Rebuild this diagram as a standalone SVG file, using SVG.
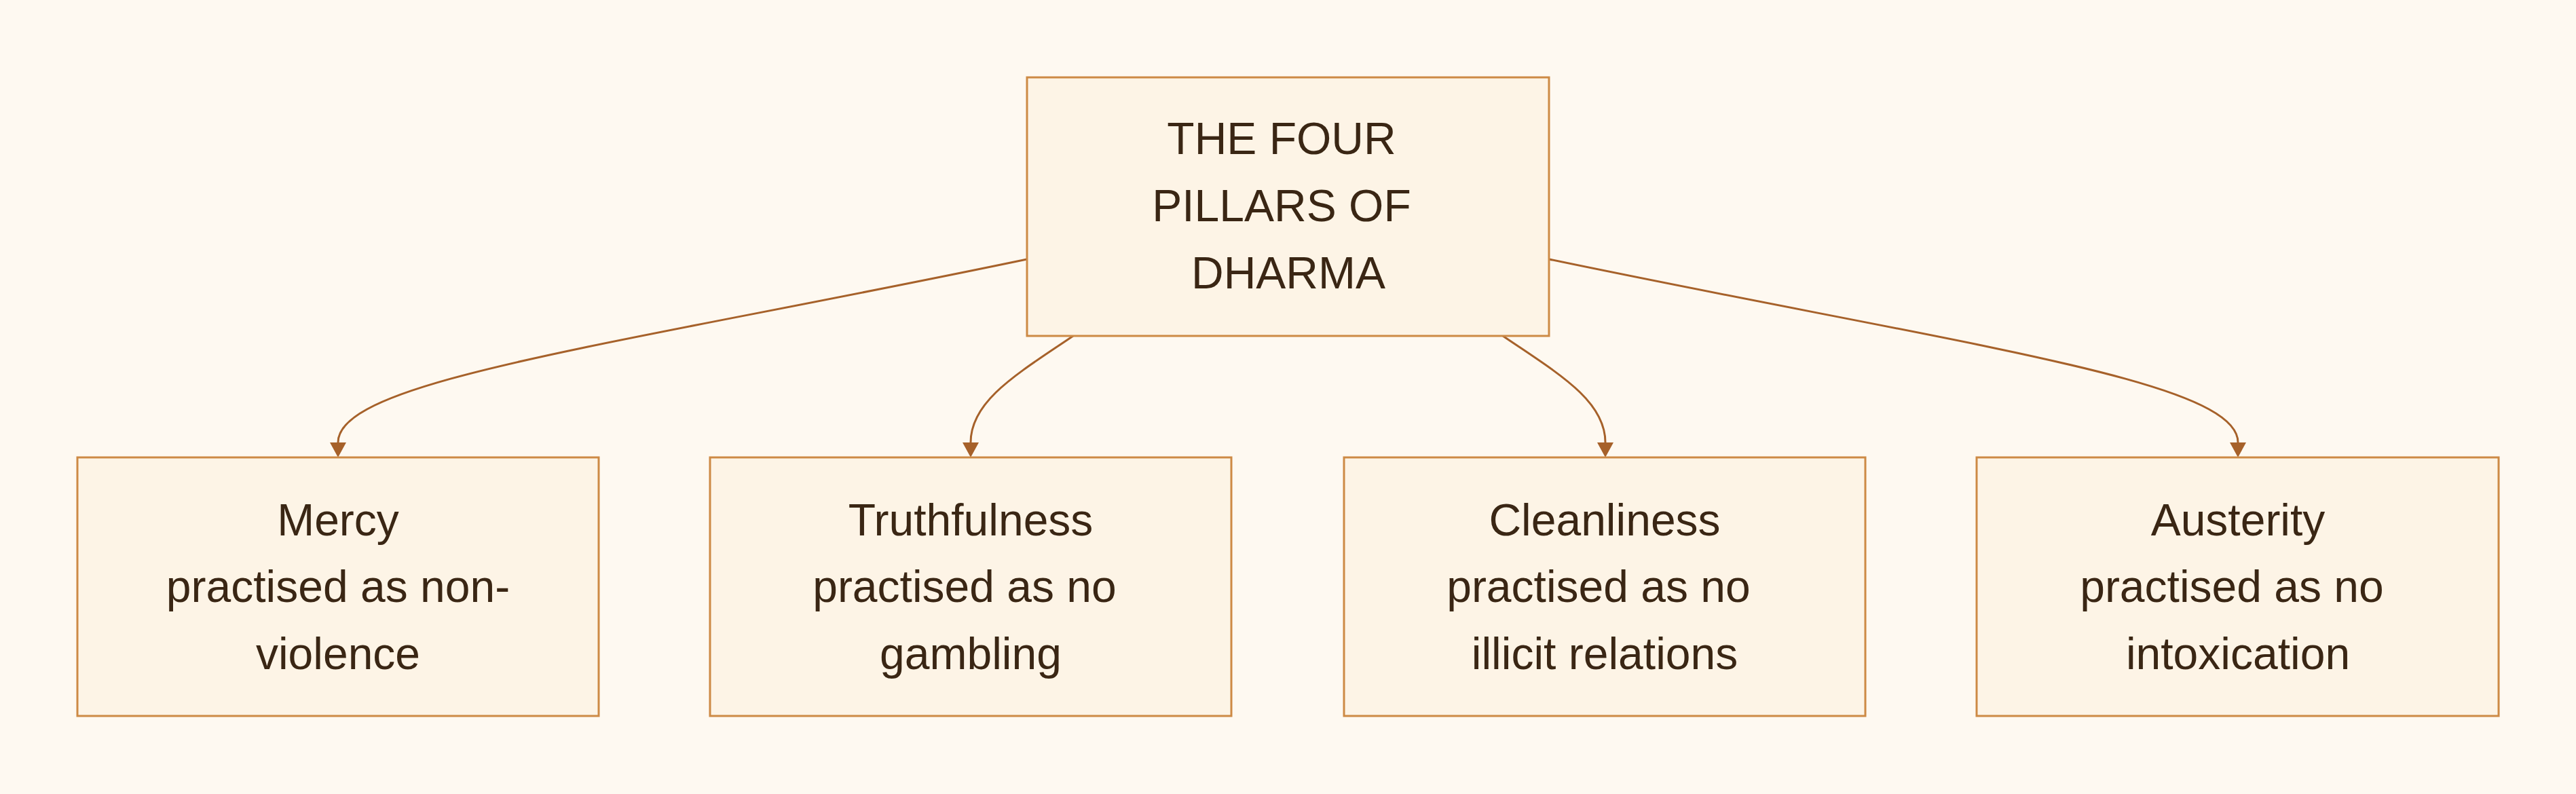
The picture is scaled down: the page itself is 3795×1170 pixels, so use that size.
<svg xmlns="http://www.w3.org/2000/svg" width="3795" height="1170" viewBox="0 0 3795 1170">
<defs>
<style>
.node rect{fill:#FDF4E6;stroke:#CD8A45;stroke-width:3}
.node text{font-family:"Liberation Sans",Arial,Helvetica,sans-serif;font-size:66px;fill:#3A2614;text-anchor:middle}
.edge{fill:none;stroke:#A6612A;stroke-width:3}
</style>
<marker id="arrow" viewBox="0 0 22 24" refX="0" refY="12" markerWidth="22" markerHeight="24" markerUnits="userSpaceOnUse" orient="auto">
<path d="M0,0 L22,12 L0,24 z" fill="#A6612A"/>
</marker>
</defs>
<rect x="0" y="0" width="3795" height="1170" fill="#FEF9F1"/>
<g id="connectors">
<path class="edge" d="M1513,382 C900,510 498,560 498,652" marker-end="url(#arrow)"/>
<path class="edge" d="M1581,495 C1500,550 1430,590 1430,652" marker-end="url(#arrow)"/>
<path class="edge" d="M2214,495 C2295,550 2365,590 2365,652" marker-end="url(#arrow)"/>
<path class="edge" d="M2282,382 C2895,510 3297,560 3297,652" marker-end="url(#arrow)"/>
</g>
<g id="root" class="node">
<rect x="1513" y="114" width="769" height="381"/>
<text x="1888" y="227">THE FOUR</text>
<text x="1888" y="326">PILLARS OF</text>
<text x="1898" y="425">DHARMA</text>
</g>
<g id="mercy" class="node">
<rect x="114" y="674" width="768" height="381"/>
<text x="498" y="789">Mercy</text>
<text x="498" y="887">practised as non-</text>
<text x="498" y="986">violence</text>
</g>
<g id="truthfulness" class="node">
<rect x="1046" y="674" width="768" height="381"/>
<text x="1430" y="789">Truthfulness</text>
<text x="1421" y="887">practised as no</text>
<text x="1430" y="986">gambling</text>
</g>
<g id="cleanliness" class="node">
<rect x="1980" y="674" width="768" height="381"/>
<text x="2364" y="789">Cleanliness</text>
<text x="2355" y="887">practised as no</text>
<text x="2364" y="986">illicit relations</text>
</g>
<g id="austerity" class="node">
<rect x="2912" y="674" width="769" height="381"/>
<text x="3297" y="789">Austerity</text>
<text x="3288" y="887">practised as no</text>
<text x="3297" y="986">intoxication</text>
</g>
</svg>
